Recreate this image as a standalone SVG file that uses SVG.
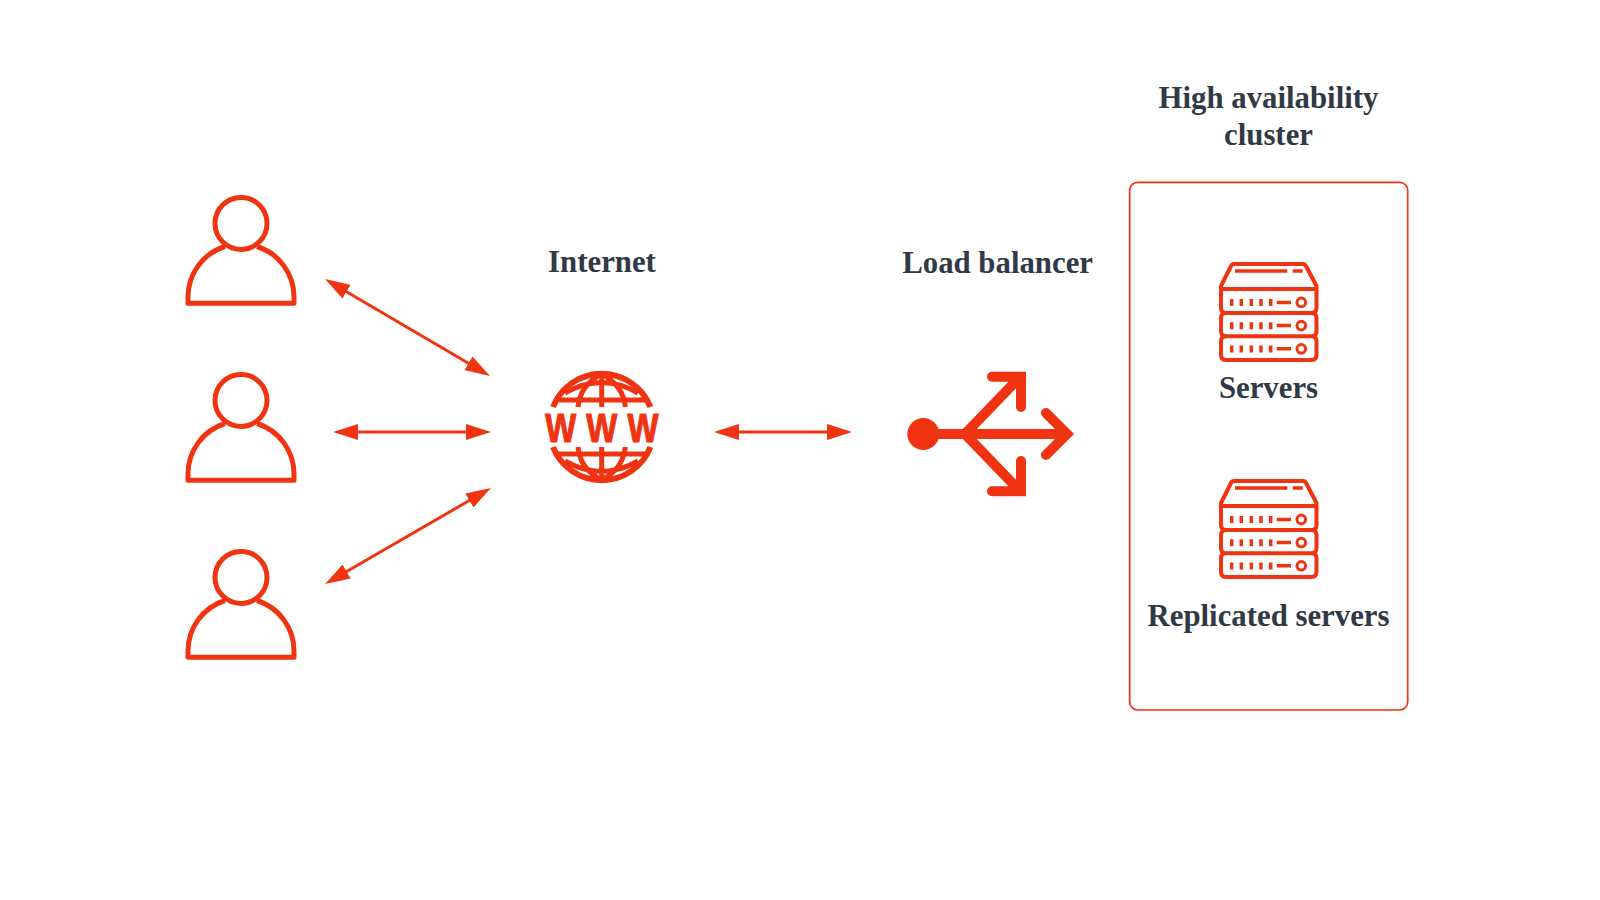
<svg xmlns="http://www.w3.org/2000/svg" width="1600" height="900" viewBox="0 0 1600 900">
<style>
.lbl{font-family:"Liberation Serif","Times New Roman",serif;font-weight:700;font-size:30.8px;fill:#303a46;text-anchor:middle}
.ic{fill:none;stroke:#f03412;stroke-linejoin:round}
.conn{stroke:#f03412;stroke-width:3;fill:none;marker-start:url(#head);marker-end:url(#head)}
</style>
<defs>
<marker id="head" viewBox="0 -8 25 16" markerWidth="25" markerHeight="16" markerUnits="userSpaceOnUse" refX="1" refY="0" orient="auto-start-reverse"><path d="M0 -8L25 0L0 8z" fill="#f03412"/></marker>
<g id="person" class="ic" stroke-width="5">
<circle cx="241" cy="223.4" r="26"/>
<path d="M225 246.5A53 53 0 0 0 188 297.5V303.3H294V297.5A53 53 0 0 0 257 246.5"/>
</g>
<g id="globe-half" class="ic" stroke-width="5.5" stroke-linecap="butt">
<path d="M553 407A52.3 52.3 0 0 1 650.4 407" stroke-width="6"/>
<path d="M558 400H645M565 393Q601.7 372 638 393M601.7 374V407M578 407Q580 385 601.7 374Q623 385 625.4 407" stroke-width="5"/>
</g>
<g id="server">
<path class="ic" stroke-width="4" d="M1221 289V286L1231 266Q1232 264 1234 264H1303Q1305 264 1306 266L1316.5 286V289ZM1221 289H1316.5V308Q1316.5 313 1311.5 313H1226Q1221 313 1221 308ZM1226 313H1311.5Q1316.5 313 1316.5 318V331Q1316.5 336.3 1311.5 336.3H1226Q1221 336.3 1221 331V318Q1221 313 1226 313ZM1226 336.3H1311.5Q1316.5 336.3 1316.5 341V355Q1316.5 360 1311.5 360H1226Q1221 360 1221 355V341Q1221 336.3 1226 336.3Z"/>
<path class="ic" stroke-width="3.5" d="M1235 271H1287.3M1292.7 271H1302.7"/>
<g id="row"><path class="ic" stroke-width="3.5" d="M1231.7 299V306M1241.3 299V306M1251.3 299V306M1261 299V306M1270.7 299V306M1276.7 302.4H1291"/><circle class="ic" stroke-width="3" cx="1301.3" cy="302.4" r="4.3"/></g>
<use href="#row" y="23.2"/>
<use href="#row" y="46.4"/>
</g>
</defs>
<rect width="1600" height="900" fill="#fff"/>
<g id="connectors">
<line class="conn" x1="345.7" y1="291.2" x2="469.3" y2="363.8"/>
<line class="conn" x1="357" y1="432" x2="467" y2="432"/>
<line class="conn" x1="345.8" y1="572" x2="470.2" y2="500"/>
<line class="conn" x1="738" y1="432" x2="828" y2="432"/>
</g>
<g id="user-1"><use href="#person"/></g>
<g id="user-2"><use href="#person" y="177"/></g>
<g id="user-3"><use href="#person" y="354"/></g>
<g id="internet">
<text class="lbl" x="602" y="272">Internet</text>
<use href="#globe-half"/>
<use href="#globe-half" transform="matrix(1 0 0 -1 0 854)"/>
<text transform="translate(0 442) scale(.8 1)" x="701 752.1 803.8" y="0" style="font-family:'Liberation Sans',Arial,sans-serif;font-weight:700;font-size:41px;fill:#f03412;stroke:#f03412;stroke-width:1.2;text-anchor:middle">WWW</text>
</g>
<g id="load-balancer">
<text class="lbl" x="997.6" y="273">Load balancer</text>
<circle cx="923.3" cy="434" r="16" fill="#f03412"/>
<g fill="none" stroke="#f03412" stroke-width="10" stroke-linecap="round" stroke-linejoin="miter" stroke-miterlimit="4">
<path d="M935 434H1065M965 434L1019 378M965 434L1019 490"/>
<path d="M992 376.7H1021V407"/>
<path d="M992 491.3H1021V461"/>
<path d="M1046 413L1067 434L1046 455"/>
</g>
</g>
<g id="cluster">
<text class="lbl" x="1268.5" y="108">High availability</text>
<text class="lbl" x="1268.5" y="144.5">cluster</text>
<rect x="1129.7" y="182.3" width="278" height="527.7" rx="8" fill="none" stroke="#f03412" stroke-width="1.7"/>
</g>
<g id="servers"><use href="#server"/><text class="lbl" x="1268.5" y="398">Servers</text></g>
<g id="replicated-servers"><use href="#server" y="217"/><text class="lbl" x="1268.5" y="626">Replicated servers</text></g>
</svg>
